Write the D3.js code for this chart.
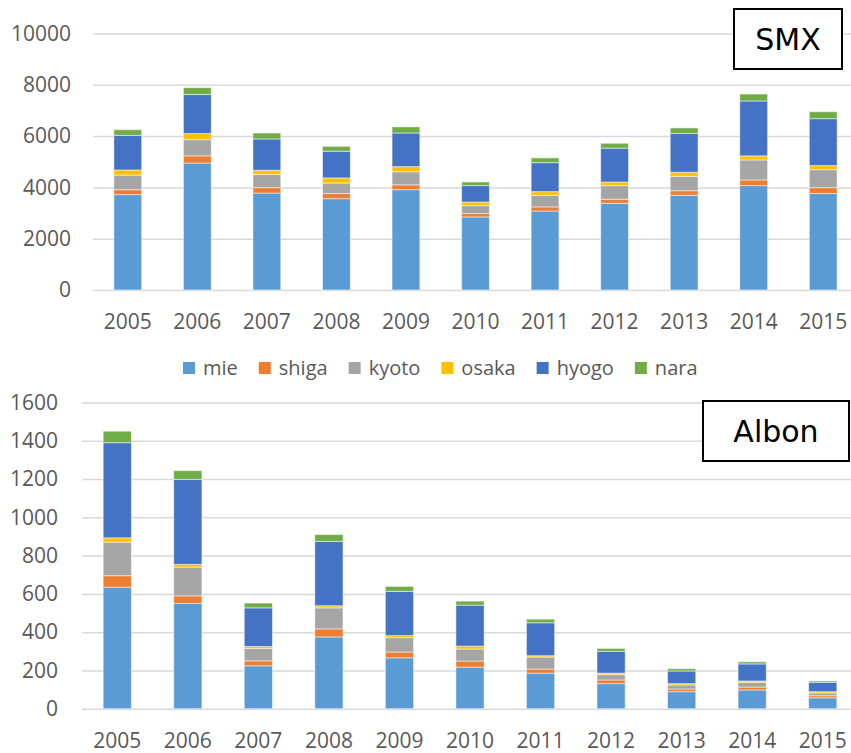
<!DOCTYPE html>
<html>
<head>
<meta charset="utf-8">
<script src="https://cdn.jsdelivr.net/npm/d3@7"></script>
<style>
  body { margin: 0; background: #fff; }
  svg { display: block; }
  text { font-family: "Open Sans", sans-serif; fill: #595959; }
</style>
</head>
<body>
<svg></svg>
<script>
const size = { w: 851, h: 753 };
const svg = d3.select("svg").attr("width", size.w).attr("height", size.h);

// data
const years = ["2005", "2006", "2007", "2008", "2009", "2010", "2011", "2012", "2013", "2014", "2015"];
const prefectures = ["mie", "shiga", "kyoto", "osaka", "hyogo", "nara"];
const colors = ["#5B9BD5", "#ED7D31", "#A5A5A5", "#FFC000", "#4472C4", "#70AD47"];

const smxMie = [3720, 4950, 3780, 3560, 3910, 2850, 3080, 3380, 3690, 4070, 3760];
const smxShiga = [190, 280, 210, 200, 190, 130, 160, 160, 180, 220, 230];
const smxKyoto = [570, 630, 510, 410, 510, 310, 450, 530, 560, 780, 700];
const smxOsaka = [200, 240, 170, 200, 200, 140, 145, 140, 160, 160, 160];
const smxHyogo = [1350, 1520, 1220, 1040, 1310, 640, 1130, 1320, 1510, 2140, 1830];
const smxNara = [220, 270, 230, 190, 240, 140, 185, 190, 220, 270, 270];

const albonMie = [635, 550, 224, 375, 266, 217, 186, 131, 89, 98, 57];
const albonShiga = [60, 40, 26, 42, 30, 32, 21, 19, 14, 15, 11];
const albonKyoto = [175, 150, 65, 110, 75, 63, 63, 28, 21, 25, 14];
const albonOsaka = [23, 14, 10, 11, 11, 15, 7, 8, 7, 7, 7];
const albonHyogo = [497, 444, 202, 336, 231, 214, 172, 114, 66, 89, 49];
const albonNara = [60, 46, 25, 36, 26, 21, 19, 15, 12, 11, 7];

const smxTicks = [0, 2000, 4000, 6000, 8000, 10000];
const albonTicks = [0, 200, 400, 600, 800, 1000, 1200, 1400, 1600];

// build rows for d3.stack
function buildRows(series) {
	return years.map((yr, i) => {
		let row = { year: yr };
		prefectures.forEach((p, j) => (row[p] = series[j][i]));
		return row;
	});
}

const smxRows = buildRows([smxMie, smxShiga, smxKyoto, smxOsaka, smxHyogo, smxNara]);
const albonRows = buildRows([albonMie, albonShiga, albonKyoto, albonOsaka, albonHyogo, albonNara]);

const color = d3.scaleOrdinal().domain(prefectures).range(colors);

function drawPanel(opts) {
	const g = svg.append("g");

	const x = d3.scaleBand()
		.domain(years)
		.range([opts.left, 858])
		.paddingInner(0.6)
		.paddingOuter(0.3);

	const y = d3.scaleLinear()
		.domain([0, opts.max])
		.range([opts.bottom, opts.top]);

	// gridlines + y labels
	const yAxis = g.append("g")
		.attr("transform", `translate(${opts.left},0)`)
		.call(d3.axisLeft(y)
			.tickValues(opts.ticks)
			.tickFormat(d3.format("d"))
			.tickSize(-(size.w - opts.left))
			.tickPadding(opts.yPad));
	yAxis.select(".domain").remove();
	yAxis.selectAll("line").attr("stroke", "#d9d9d9").attr("stroke-width", 1.5);
	yAxis.selectAll("text").style("font-size", "21px").attr("fill", "#595959");

	// x labels
	const xAxis = g.append("g")
		.attr("transform", `translate(0,${opts.bottom})`)
		.call(d3.axisBottom(x).tickSize(0).tickPadding(24));
	xAxis.select(".domain").remove();
	xAxis.selectAll("text").style("font-size", "21px").attr("fill", "#595959");

	// stacked bars
	const stacked = d3.stack().keys(prefectures)(opts.rows);
	g.append("g")
		.selectAll("g")
		.data(stacked)
		.join("g")
		.attr("fill", (d) => color(d.key))
		.selectAll("rect")
		.data((d) => d)
		.join("rect")
		.attr("x", (d) => x(d.data.year))
		.attr("width", x.bandwidth())
		.attr("y", (d) => y(d[1]))
		.attr("height", (d) => y(d[0]) - y(d[1]))
		.attr("stroke", "#fff")
		.attr("stroke-opacity", 0.5)
		.attr("stroke-width", 1);

	// title box
	const box = g.append("g").attr("transform", `translate(${opts.box.x},${opts.box.y})`);
	box.append("rect")
		.attr("width", opts.box.w)
		.attr("height", opts.box.h)
		.attr("fill", "#fff")
		.attr("stroke", "#000")
		.attr("stroke-width", 2);
	box.append("text")
		.attr("x", opts.box.w / 2)
		.attr("y", opts.box.h / 2)
		.attr("dy", "0.36em")
		.attr("text-anchor", "middle")
		.style("font-family", "'DejaVu Sans', sans-serif")
		.style("font-size", "30px")
		.style("fill", "#000")
		.text(opts.title);
}

drawPanel({
	rows: smxRows, max: 10000, ticks: smxTicks,
	left: 93, top: 33.5, bottom: 290, yPad: 22,
	title: "SMX", box: { x: 734, y: 9, w: 108, h: 60 },
});

drawPanel({
	rows: albonRows, max: 1600, ticks: albonTicks,
	left: 82, top: 402.5, bottom: 708.7, yPad: 24,
	title: "Albon", box: { x: 703, y: 401, w: 146, h: 60 },
});

// legend
const legend = svg.append("g").attr("transform", "translate(183,368)");
let lx = 0;
prefectures.forEach((p) => {
	const item = legend.append("g").attr("transform", `translate(${lx},0)`);
	item.append("rect")
		.attr("x", 0).attr("y", -6)
		.attr("width", 12).attr("height", 12)
		.attr("fill", color(p));
	const t = item.append("text")
		.attr("x", 20)
		.attr("dy", "0.35em")
		.style("font-size", "20px")
		.text(p);
	lx += 20 + t.node().getComputedTextLength() + 21;
});
</script>
</body>
</html>
